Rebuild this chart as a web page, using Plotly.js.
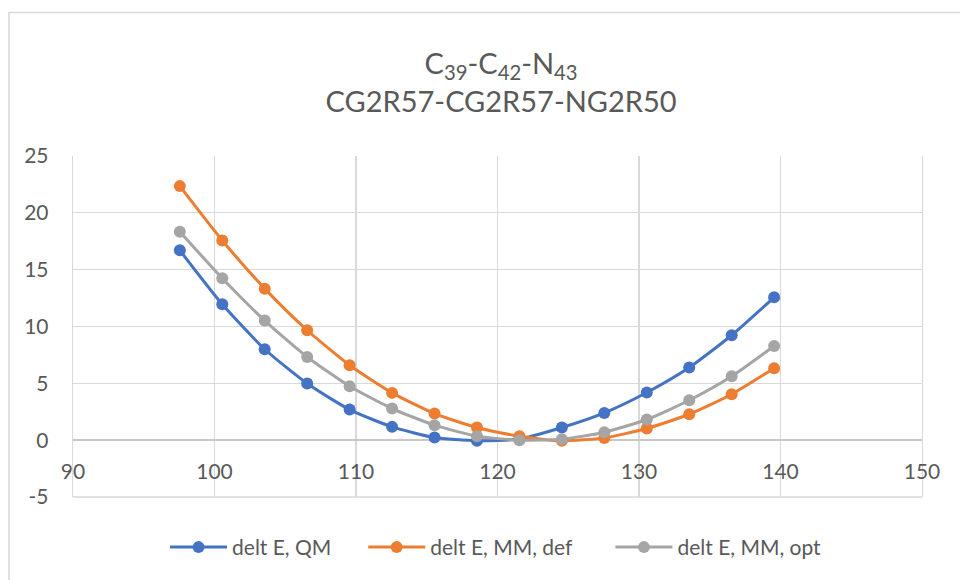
<!DOCTYPE html>
<html>
<head>
<meta charset="utf-8">
<script src="https://cdn.plot.ly/plotly-3.0.1.min.js"></script>
<style>html,body{margin:0;padding:0;background:#fff;}#chart{width:960px;height:580px;}</style>
</head>
<body>
<div id="chart"></div>
<script>
const angles = [97.55, 100.55, 103.55, 106.55, 109.55, 112.55, 115.55, 118.55, 121.55, 124.55, 127.55, 130.55, 133.55, 136.55, 139.55];
const deltEQM = [16.7, 11.95, 8.0, 4.98, 2.69, 1.17, 0.23, -0.05, 0.1, 1.11, 2.4, 4.19, 6.39, 9.23, 12.57];
const deltEMMdef = [22.35, 17.57, 13.33, 9.67, 6.59, 4.16, 2.34, 1.11, 0.35, -0.05, 0.2, 1.03, 2.28, 4.04, 6.33];
const deltEMMopt = [18.34, 14.24, 10.52, 7.32, 4.75, 2.78, 1.32, 0.35, 0.0, 0.09, 0.7, 1.82, 3.51, 5.62, 8.29];
const seriesNames = ["delt E, QM", "delt E, MM, def", "delt E, MM, opt"];
const xTicks = [90, 100, 110, 120, 130, 140, 150];
const yTicks = [-5, 0, 5, 10, 15, 20, 25];

const colors = ["#4472C4", "#ED7D31", "#A5A5A5"];
const ys = [deltEQM, deltEMMdef, deltEMMopt];
const legendIds = ["legend", "legend2", "legend3"];
const legendX = [0.1084, 0.3418, 0.633];
const font = "Lato, 'Open Sans', sans-serif";

const traces = ys.map((y, i) => ({
  x: angles, y: y, name: seriesNames[i], type: "scatter", mode: "lines+markers",
  legend: legendIds[i],
  line: {color: colors[i], width: 3, shape: "spline", smoothing: 0.6},
  marker: {color: colors[i], size: 12}
}));

const y0frac = (0 - (-5)) / (25 - (-5));

const layout = {
  width: 960, height: 580,
  margin: {l: 73, r: 38, t: 156, b: 83},
  paper_bgcolor: "#fff", plot_bgcolor: "#fff",
  font: {family: font, color: "#595959", size: 21},
  title: {
    text: "C<sub>39</sub>-C<sub>42</sub>-N<sub>43</sub><br>CG2R57-CG2R57-NG2R50",
    font: {family: font, size: 29, color: "#595959"},
    x: 0.522, xanchor: "center", y: 0.872, yanchor: "middle"
  },
  xaxis: {
    range: [90, 150], tickvals: xTicks, ticktext: xTicks.map(String),
    showgrid: true, gridcolor: "#d9d9d9", gridwidth: 1.3,
    zeroline: false, showline: false, ticks: "",
    anchor: "free", position: y0frac, ticklabelstandoff: 17,
    tickfont: {size: 21, color: "#595959"}
  },
  yaxis: {
    range: [-5, 25], tickvals: yTicks, ticktext: yTicks.map(String),
    showgrid: true, gridcolor: "#d9d9d9", gridwidth: 1.3,
    zeroline: true, zerolinecolor: "#c8c8c8", zerolinewidth: 1.5,
    showline: true, linecolor: "#d9d9d9", linewidth: 1.3, mirror: true,
    ticks: "", ticklabelstandoff: 19,
    tickfont: {size: 21, color: "#595959"}
  },
  showlegend: true,
  shapes: [{
    type: "rect", xref: "paper", yref: "paper",
    x0: -0.0754, x1: 1.3, y0: -0.6, y1: 1.4207,
    line: {color: "#d9d9d9", width: 1.5}, fillcolor: "rgba(0,0,0,0)", layer: "below"
  }, {
    type: "line", xref: "paper", yref: "paper",
    x0: 0, x1: 1, y0: 0, y1: 0,
    line: {color: "#d9d9d9", width: 1.3}, layer: "below"
  }]
};
legendIds.forEach((id, i) => {
  layout[id] = {
    orientation: "h", x: legendX[i], xanchor: "left", y: -0.148, yanchor: "middle",
    font: {size: 21, color: "#595959"}, itemwidth: 57, bgcolor: "rgba(0,0,0,0)"
  };
});

Plotly.newPlot("chart", traces, layout, {displayModeBar: false, staticPlot: true});
</script>
</body>
</html>
